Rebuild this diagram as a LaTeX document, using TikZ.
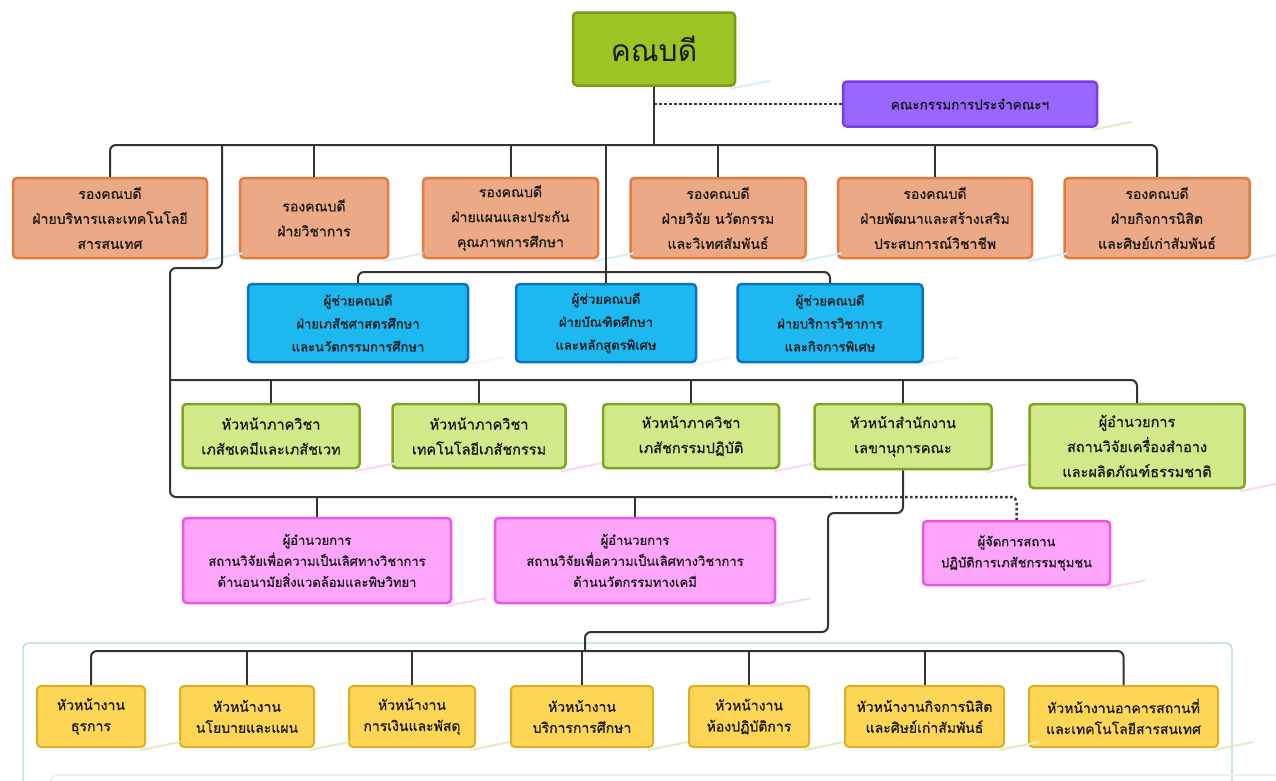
\documentclass[tikz,border=0pt]{standalone}
\usepackage{fontspec}
\setmainfont[Script=Thai]{Loma}
\newfontfamily\thb[Script=Thai,FakeBold=0.9]{Loma}
\usetikzlibrary{calc}
\definecolor{deanF}{HTML}{9CC524}
\definecolor{deanD}{HTML}{7B9A18}
\definecolor{purF}{HTML}{9966FF}
\definecolor{purD}{HTML}{7A3BE8}
\definecolor{orF}{HTML}{EBA985}
\definecolor{orD}{HTML}{E47B3C}
\definecolor{blF}{HTML}{1CB8EF}
\definecolor{blD}{HTML}{0B72C2}
\definecolor{grF}{HTML}{D2E98A}
\definecolor{grD}{HTML}{7DA51E}
\definecolor{pkF}{HTML}{FCA5FB}
\definecolor{pkD}{HTML}{EE55E6}
\definecolor{ylF}{HTML}{FDD655}
\definecolor{ylD}{HTML}{DDB024}
\definecolor{lnC}{HTML}{333333}
\definecolor{frC}{HTML}{A9D9E3}
\definecolor{txC}{HTML}{1A1A1A}
\definecolor{glB}{HTML}{D4EEFA}
\definecolor{glP}{HTML}{F8D8F6}
\definecolor{glG}{HTML}{DDEEC0}
\newcommand\glint[2]{\fill[#2] ($(#1.south east)+(-6,1)$) -- ($(#1.south east)+(34,-7)$) -- ($(#1.south east)+(34,-5)$) -- ($(#1.south east)+(-6,3)$) -- cycle;}
\begin{document}
\begin{tikzpicture}[x=1pt,y=-1pt,
  bx/.style={draw, rounded corners=4pt, line width=2.5pt, align=center, inner sep=0pt, text=txC},
  obox/.style={bx, fill=orF, draw=orD, font=\thb\fontsize{14}{25}\selectfont},
  bbox/.style={bx, fill=blF, draw=blD, font=\thb\fontsize{13}{23}\selectfont},
  gbox/.style={bx, fill=grF, draw=grD, font=\thb\fontsize{14.5}{25}\selectfont},
  pbox/.style={bx, fill=pkF, draw=pkD, font=\thb\fontsize{13}{21}\selectfont},
  ybox/.style={bx, fill=ylF, draw=ylD, line width=2pt, font=\thb\fontsize{14}{21}\selectfont},
  conn/.style={draw=lnC, line width=2pt, rounded corners=6pt},
  dotline/.style={draw=lnC, line width=2.5pt, dash pattern=on 2.5pt off 2.5pt, rounded corners=5pt}]
\useasboundingbox (0,0) rectangle (1276,780);
\fill[white] (0,0) rectangle (1276,780);

% frame
\draw[frC, line width=1.3pt, rounded corners=6pt] (23,790) -- (23,643) -- (1232,643) -- (1232,790);
\draw[frC!35, line width=1.5pt, rounded corners=8pt] (50,790) -- (50,775) -- (1276,775);

% nodes
\node[bx, fill=deanF, draw=deanD, minimum width=162pt, minimum height=73pt, font=\fontsize{30}{34}\selectfont] (dean) at (654,49) {คณบดี};
\node[bx, fill=purF, draw=purD, minimum width=254pt, minimum height=45pt, font=\thb\fontsize{13.5}{20}\selectfont] (comm) at (970,104) {คณะกรรมการประจำคณะฯ};

\node[obox, minimum width=194pt, minimum height=80pt] (o1) at (110,218) {รองคณบดี\\ฝ่ายบริหารและเทคโนโลยี\\สารสนเทศ};
\node[obox, minimum width=148pt, minimum height=80pt] (o2) at (314,218) {รองคณบดี\\ฝ่ายวิชาการ};
\node[obox, minimum width=175pt, minimum height=80pt] (o3) at (510.5,218) {รองคณบดี\\ฝ่ายแผนและประกัน\\คุณภาพการศึกษา};
\node[obox, minimum width=175pt, minimum height=80pt] (o4) at (718,218) {รองคณบดี\\ฝ่ายวิจัย นวัตกรรม\\และวิเทศสัมพันธ์};
\node[obox, minimum width=194pt, minimum height=80pt] (o5) at (935,218) {รองคณบดี\\ฝ่ายพัฒนาและสร้างเสริม\\ประสบการณ์วิชาชีพ};
\node[obox, minimum width=185pt, minimum height=80pt] (o6) at (1157,218) {รองคณบดี\\ฝ่ายกิจการนิสิต\\และศิษย์เก่าสัมพันธ์};

\node[bbox, minimum width=220pt, minimum height=78pt] (b1) at (358,323) {ผู้ช่วยคณบดี\\ฝ่ายเภสัชศาสตรศึกษา\\และนวัตกรรมการศึกษา};
\node[bbox, minimum width=180pt, minimum height=78pt] (b2) at (606,323) {ผู้ช่วยคณบดี\\ฝ่ายบัณฑิตศึกษา\\และหลักสูตรพิเศษ};
\node[bbox, minimum width=185pt, minimum height=78pt] (b3) at (830,323) {ผู้ช่วยคณบดี\\ฝ่ายบริการวิชาการ\\และกิจการพิเศษ};

\node[gbox, minimum width=177pt, minimum height=64pt] (g1) at (271,436) {หัวหน้าภาควิชา\\เภสัชเคมีและเภสัชเวท};
\node[gbox, minimum width=173pt, minimum height=64pt] (g2) at (479,436) {หัวหน้าภาควิชา\\เทคโนโลยีเภสัชกรรม};
\node[gbox, minimum width=176pt, minimum height=64pt] (g3) at (691,436) {หัวหน้าภาควิชา\\เภสัชกรรมปฏิบัติ};
\node[gbox, minimum width=177pt, minimum height=65pt] (g4) at (903,436.5) {หัวหน้าสำนักงาน\\เลขานุการคณะ};
\node[gbox, minimum width=215pt, minimum height=84pt] (g5) at (1137,446) {ผู้อำนวยการ\\สถานวิจัยเครื่องสำอาง\\และผลิตภัณฑ์ธรรมชาติ};

\node[pbox, minimum width=268pt, minimum height=85pt] (p1) at (317,560.5) {ผู้อำนวยการ\\สถานวิจัยเพื่อความเป็นเลิศทางวิชาการ\\ด้านอนามัยสิ่งแวดล้อมและพิษวิทยา};
\node[pbox, minimum width=280pt, minimum height=85pt] (p2) at (635,560.5) {ผู้อำนวยการ\\สถานวิจัยเพื่อความเป็นเลิศทางวิชาการ\\ด้านนวัตกรรมทางเคมี};
\node[pbox, minimum width=187pt, minimum height=64pt] (p3) at (1016.5,553) {ผู้จัดการสถาน\\ปฏิบัติการเภสัชกรรมชุมชน};

\node[ybox, minimum width=108pt, minimum height=61pt] (y1) at (91,716.5) {หัวหน้างาน\\ธุรการ};
\node[ybox, minimum width=134pt, minimum height=61pt] (y2) at (247,716.5) {หัวหน้างาน\\นโยบายและแผน};
\node[ybox, minimum width=126pt, minimum height=61pt] (y3) at (412,716.5) {หัวหน้างาน\\การเงินและพัสดุ};
\node[ybox, minimum width=142pt, minimum height=61pt] (y4) at (582,716.5) {หัวหน้างาน\\บริการการศึกษา};
\node[ybox, minimum width=120pt, minimum height=61pt] (y5) at (749,716.5) {หัวหน้างาน\\ห้องปฏิบัติการ};
\node[ybox, minimum width=159pt, minimum height=61pt] (y6) at (924.5,716.5) {หัวหน้างานกิจการนิสิต\\และศิษย์เก่าสัมพันธ์};
\node[ybox, minimum width=189pt, minimum height=61pt] (y7) at (1123.5,716.5) {หัวหน้างานอาคารสถานที่\\และเทคโนโลยีสารสนเทศ};

% glints
\glint{dean}{glB}
\glint{comm}{glG}
\foreach \n in {o1,o2,o3,o4,o5,o6}{\glint{\n}{glB}}
\foreach \n in {b1,b2,b3}{\glint{\n}{glB!50}}
\foreach \n in {g1,g2,g3,g4,g5}{\glint{\n}{glP}}
\foreach \n in {p1,p2,p3}{\glint{\n}{glP}}
\foreach \n in {y1,y2,y3,y4,y5,y6,y7}{\glint{\n}{glG}}

% coordinates
\coordinate (busO) at (654,145);
\coordinate (busB) at (607,272);
\coordinate (lt) at (222,145);
\coordinate (lA) at (222,268);
\coordinate (lB) at (170,268);
\coordinate (gL) at (170,380);
\coordinate (lC) at (170,497);
\coordinate (pEnd) at (830,497);
\coordinate (s1) at (903,513);
\coordinate (s2) at (828,513);
\coordinate (s3) at (828,632);
\coordinate (s4) at (585,632);
\coordinate (busY) at (585,651);

% connectors
\draw[conn] (dean) -- (busO);
\draw[dotline] (dean.south |- comm.west) -- (comm);
\draw[conn] (o1) |- (busO) -| (o6);
\foreach \n in {o2,o3,o4,o5}{\draw[conn] (\n) -- (\n |- busO);}
\draw[conn] (b2 |- busO) -- (b2);
\draw[conn] (b1) |- (busB) -| (b3);
\draw[conn] (lt) -- (lA) -- (lB) -- (lC) -- (pEnd);
\draw[conn] (gL) -| (g5);
\foreach \n in {g1,g2,g3,g4}{\draw[conn] (\n) -- (\n |- gL);}
\draw[conn] (p1) -- (p1 |- lC);
\draw[conn] (p2) -- (p2 |- lC);
\draw[dotline] (pEnd) -| (p3);
\draw[conn] (g4) -- (s1) -- (s2) -- (s3) -- (s4) -- (busY);
\draw[conn] (y1) |- (busY) -| (y7);
\foreach \n in {y2,y3,y4,y5,y6}{\draw[conn] (\n) -- (\n |- busY);}
\end{tikzpicture}
\end{document}
